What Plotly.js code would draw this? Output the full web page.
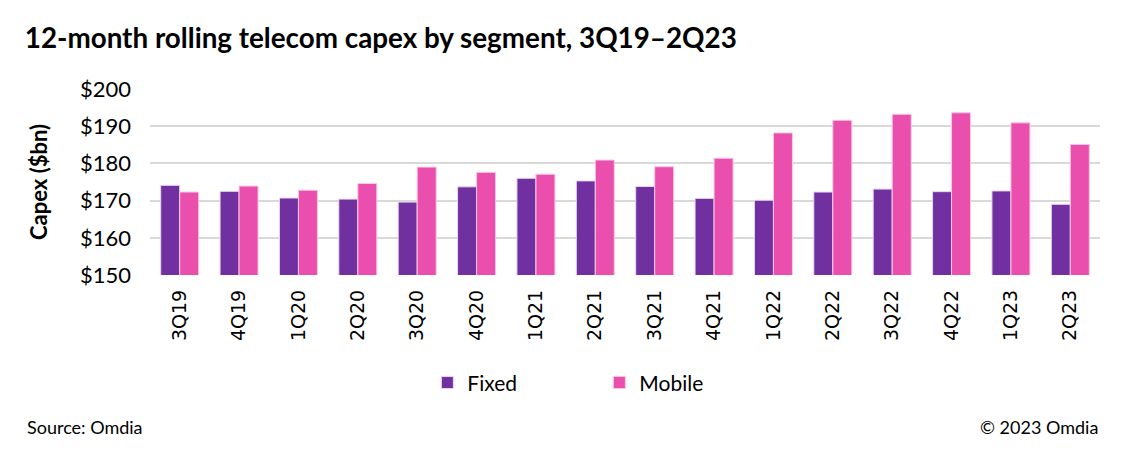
<!DOCTYPE html>
<html><head><meta charset="utf-8">
<script src="https://cdn.plot.ly/plotly-3.0.1.min.js"></script>
<style>html,body{margin:0;padding:0;background:#fff;}#chart{width:1126px;height:451px;}</style>
</head><body><div id="chart"></div>
<script>
const quarters = ["3Q19","4Q19","1Q20","2Q20","3Q20","4Q20","1Q21","2Q21","3Q21","4Q21","1Q22","2Q22","3Q22","4Q22","1Q23","2Q23"];
const fixed = [174.1,172.5,170.7,170.4,169.6,173.7,176.0,175.3,173.8,170.6,170.1,172.3,173.1,172.4,172.6,169.0];
const mobile = [172.3,173.9,172.8,174.6,179.0,177.6,177.1,180.9,179.1,181.4,188.2,191.6,193.2,193.6,190.9,185.1];
const yTicks = [150,160,170,180,190,200];
const yTickText = ["$150","$160","$170","$180","$190","$200"];

const F = "Lato, 'Open Sans', sans-serif";
const traces = [
  {type:"bar", name:"Fixed", x:quarters, y:fixed, marker:{color:"#7030A0", line:{color:"#E8D8F0", width:1}}},
  {type:"bar", name:"Mobile", x:quarters, y:mobile, marker:{color:"#EB4FAD", line:{color:"#F8C8E4", width:1}}}
];
const layout = {
  width:1126, height:451,
  margin:{l:150, r:26, t:89, b:176},
  paper_bgcolor:"#fff", plot_bgcolor:"#fff",
  barmode:"group", bargap:0.36, bargroupgap:0,
  title:{text:"<b>12-month rolling telecom capex by segment, 3Q19–2Q23</b>", x:0.022, xanchor:"left", y:0.915, yanchor:"middle", font:{family:F, size:27.8, color:"#000"}},
  xaxis:{tickangle:-90, tickfont:{family:"DejaVu Sans", size:19, color:"#000"}, showline:false, ticks:"", automargin:false, ticklabelstandoff:10},
  yaxis:{range:[150,200], tickvals:yTicks, ticktext:yTickText, tickfont:{family:F, size:22, color:"#000"}, gridcolor:"#D9D9D9", gridwidth:2, zeroline:false, showline:false, ticks:"", automargin:false, ticklabelstandoff:18,
    title:{text:"<b>Capex ($bn)</b>", font:{family:F, size:22, color:"#000"}, standoff:26}},
  showlegend:true,
  legend:{orientation:"h", x:0.473, xanchor:"center", y:-0.58, yanchor:"middle", font:{family:F, size:21, color:"#000"}, entrywidth:127, itemwidth:30, traceorder:"normal"},
  annotations:[
    {text:"Source: Omdia", xref:"paper", yref:"paper", x:-0.132, xanchor:"left", y:-0.815, yanchor:"middle", showarrow:false, font:{family:F, size:18, color:"#000"}},
    {text:"© 2023 Omdia", xref:"paper", yref:"paper", x:1.0, xanchor:"right", y:-0.815, yanchor:"middle", showarrow:false, font:{family:F, size:18, color:"#000"}}
  ]
};
Plotly.newPlot("chart", traces, layout, {displayModeBar:false, staticPlot:true});
</script></body></html>
